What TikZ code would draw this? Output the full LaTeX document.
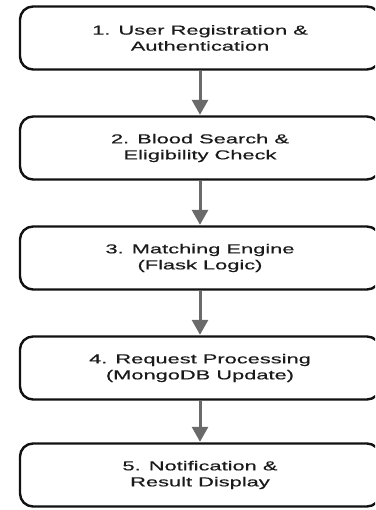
\documentclass[tikz,border=0pt]{standalone}
\usepackage{fontspec}
\setmainfont{Liberation Sans}[FakeStretch=1.68,FakeBold=0.5]
\usetikzlibrary{arrows.meta}
\definecolor{boxline}{HTML}{111111}
\definecolor{arrowgray}{HTML}{6A6A6A}
\definecolor{labeltext}{HTML}{1A1A1A}
\begin{document}
\begin{tikzpicture}[x=1pt,y=-1pt,
  stepbox/.style={draw=boxline, line width=2.4pt, rounded corners=13pt,
    minimum width=360pt, minimum height=63pt, inner sep=0pt,
    text=labeltext, align=center,
    font=\fontsize{13pt}{16pt}\selectfont},
  flow/.style={draw=arrowgray, line width=3pt,
    -{Triangle[length=15pt,width=16pt]}, shorten >=0.5pt}]
\useasboundingbox (0,0) rectangle (375,510);
\clip (0,0) rectangle (375,510);
\node[stepbox] (s1) at (200,38)  {1. User Registration \&\\Authentication};
\node[stepbox] (s2) at (200,148) {2. Blood Search \&\\Eligibility Check};
\node[stepbox] (s3) at (200,258) {3. Matching Engine\\(Flask Logic)};
\node[stepbox] (s4) at (200,368) {4. Request Processing\\(MongoDB Update)};
\node[stepbox] (s5) at (200,475) {5. Notification \&\\Result Display};
\draw[flow] (s1) -- (s2);
\draw[flow] (s2) -- (s3);
\draw[flow] (s3) -- (s4);
\draw[flow] (s4) -- (s5);
\end{tikzpicture}
\end{document}
